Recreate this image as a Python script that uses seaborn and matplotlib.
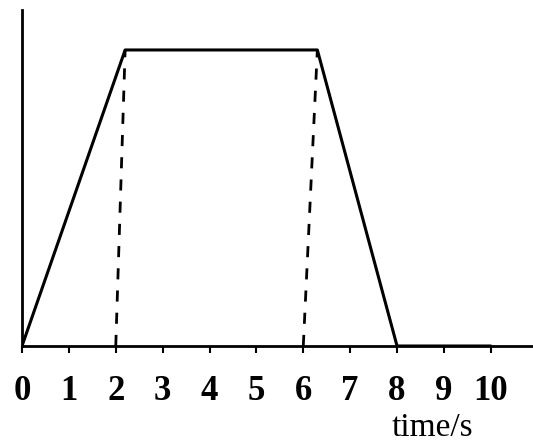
import matplotlib
matplotlib.use("Agg")
import matplotlib.pyplot as plt
import seaborn as sns
import pandas as pd

# velocity-time sketch (no y scale in the original)
times = [0, 2.2, 6.3, 8, 10]
speed = [0, 1, 1, 0, 0]
guide_bottom = [2, 6]
guide_top = [2.2, 6.3]
ticks = [0, 1, 2, 3, 4, 5, 6, 7, 8, 9, 10]

sns.set_theme(style="white")
plt.rcParams["font.family"] = ["Liberation Serif", "DejaVu Serif"]

fig = plt.figure(figsize=(5.33, 4.46), dpi=100)
ax = fig.add_axes([22 / 533, 100 / 446, 511 / 533, 336 / 446])

df = pd.DataFrame({"time": times, "v": speed})
sns.lineplot(data=df, x="time", y="v", ax=ax, color="black", linewidth=2.2, sort=False)

# dashed guides from the axis up to the corners
for b, t in zip(guide_bottom, guide_top):
    ax.plot([b, t], [0, 1], color="black", linewidth=2, linestyle=(0, (4, 4)))

ax.set_xlim(0, 10.9)
ax.set_ylim(0, 1.135)
ax.set_xticks(ticks)
ax.set_xticklabels([str(t) for t in ticks], fontsize=25, fontweight="bold", color="black")
ax.set_yticks([])
ax.tick_params(axis="x", direction="out", length=5, width=1.5, pad=16, colors="black", bottom=True)
ax.set_xlabel("")
ax.set_ylabel("")

for s in ["top", "right"]:
    ax.spines[s].set_visible(False)
for s in ["left", "bottom"]:
    ax.spines[s].set_color("black")
    ax.spines[s].set_linewidth(2)

fig.text(392 / 533, 1 - 436 / 446, "time/s", fontsize=24, color="black", ha="left", va="baseline")

fig.savefig("out.png", dpi=100)
